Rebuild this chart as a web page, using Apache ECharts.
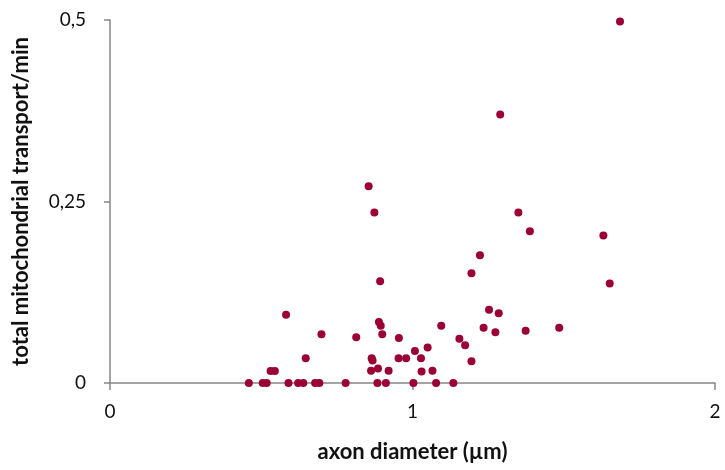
<!DOCTYPE html>
<html>
<head>
<meta charset="utf-8">
<script src="https://cdn.jsdelivr.net/npm/echarts@6/dist/echarts.min.js"></script>
<style>
html,body{margin:0;padding:0;background:#fff;}
#main{width:725px;height:470px;}
</style>
</head>
<body>
<div id="main"></div>
<script>
// axon diameter (µm)
var diameter = [0.459, 0.505, 0.518, 0.531, 0.545, 0.582, 0.590, 0.622, 0.639, 0.647,
    0.678, 0.692, 0.699, 0.779, 0.814, 0.855, 0.874, 0.893, 0.865, 0.868,
    0.889, 0.895, 0.900, 0.863, 0.886, 0.921, 0.884, 0.912, 0.955, 0.954,
    0.979, 1.008, 1.028, 1.050, 1.030, 1.066, 1.003, 1.078, 1.135, 1.095,
    1.155, 1.174, 1.195, 1.195, 1.223, 1.253, 1.285, 1.235, 1.274, 1.350,
    1.388, 1.374, 1.686, 1.290, 1.631, 1.652, 1.485];
// total mitochondrial transport/min
var transport = [0, 0, 0, 0.0165, 0.0165, 0.094, 0, 0, 0, 0.034,
    0, 0, 0.067, 0, 0.063, 0.271, 0.235, 0.140, 0.034, 0.031,
    0.084, 0.079, 0.067, 0.017, 0.020, 0.017, 0, 0, 0.062, 0.034,
    0.034, 0.044, 0.034, 0.049, 0.016, 0.017, 0, 0, 0, 0.079,
    0.061, 0.052, 0.030, 0.151, 0.176, 0.101, 0.096, 0.076, 0.070, 0.235,
    0.209, 0.072, 0.498, 0.370, 0.203, 0.137, 0.076];

var points = diameter.map(function (d, i) { return [d, transport[i]]; });

var font = 'Lato, Calibri, sans-serif';
var axisGray = '#868686';

var main = document.getElementById('main');
var mychart = echarts.init(main);
var option = {
    animation: false,
    grid: {left: 110, right: 10, top: 20, bottom: 87},
    xAxis: {
        type: 'value', min: 0, max: 2, interval: 1,
        name: 'axon diameter (µm)', nameLocation: 'middle', nameGap: 58,
        nameTextStyle: {fontFamily: font, fontSize: 22, fontWeight: 'bold', color: '#111'},
        axisLine: {show: true, lineStyle: {color: axisGray, width: 1.5}},
        axisTick: {show: true, length: 7, lineStyle: {color: axisGray, width: 1.5}},
        axisLabel: {fontFamily: font, fontSize: 19, color: '#111', margin: 19},
        splitLine: {show: false}
    },
    yAxis: {
        type: 'value', min: 0, max: 0.5, interval: 0.25,
        name: 'total mitochondrial transport/min', nameLocation: 'middle', nameGap: 78, nameRotate: 90,
        nameTextStyle: {fontFamily: font, fontSize: 22, fontWeight: 'bold', color: '#111'},
        axisLine: {show: true, lineStyle: {color: axisGray, width: 1.5}},
        axisTick: {show: true, length: 6, lineStyle: {color: axisGray, width: 1.5}},
        axisLabel: {fontFamily: font, fontSize: 19, color: '#111', margin: 24,
            formatter: function (v) { return String(v).replace('.', ','); }},
        splitLine: {show: false}
    },
    series: [{
        type: 'scatter',
        data: points,
        symbolSize: 8,
        itemStyle: {color: '#9B0034', opacity: 1}
    }]
};
mychart.setOption(option);
</script>
</body>
</html>
